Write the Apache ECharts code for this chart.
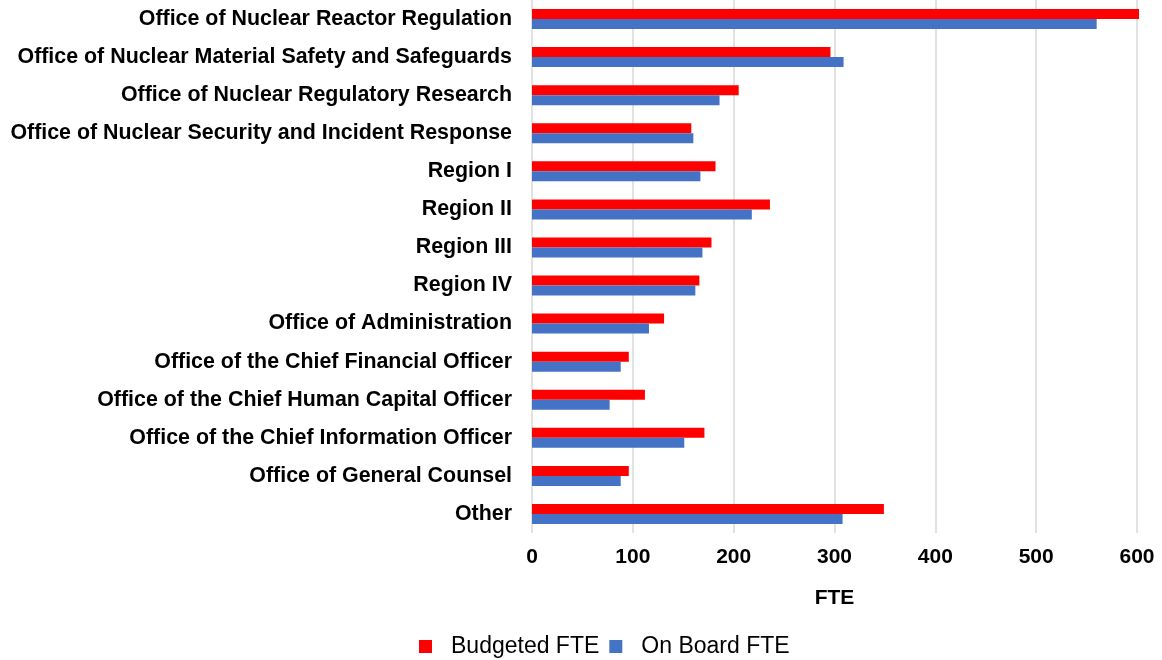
<!DOCTYPE html>
<html>
<head>
<meta charset="utf-8">
<script src="https://cdn.jsdelivr.net/npm/echarts@6/dist/echarts.min.js"></script>
<style>
html,body{margin:0;padding:0;background:#fff;}
#c{width:1162px;height:660px;}
</style>
</head>
<body>
<div id="c"></div>
<script>
const categories = [
  "Office of Nuclear Reactor Regulation",
  "Office of Nuclear Material Safety and Safeguards",
  "Office of Nuclear Regulatory Research",
  "Office of Nuclear Security and Incident Response",
  "Region I",
  "Region II",
  "Region III",
  "Region IV",
  "Office of Administration",
  "Office of the Chief Financial Officer",
  "Office of the Chief Human Capital Officer",
  "Office of the Chief Information Officer",
  "Office of General Counsel",
  "Other"
];
const budgetedFTE = [602, 296, 205, 158, 182, 236, 178, 166, 131, 96, 112, 171, 96, 349];
const onBoardFTE = [560, 309, 186, 160, 167, 218, 169, 162, 116, 88, 77, 151, 88, 308];
const xTicks = [0, 100, 200, 300, 400, 500, 600];

const chart = echarts.init(document.getElementById('c'), null, {renderer: 'canvas'});
const font = 'Arial, "Liberation Sans", sans-serif';
chart.setOption({
  animation: false,
  backgroundColor: '#fff',
  grid: {left: 532, right: 25, top: 0, bottom: 127, containLabel: false},
  legend: {
    data: ['Budgeted FTE', 'On Board FTE'],
    left: 419, top: 635, padding: 0,
    icon: 'rect', itemWidth: 13, itemHeight: 13, itemGap: 10,
    textStyle: {fontFamily: font, fontSize: 23, color: '#000', padding: [0, 0, 0, 14]}
  },
  xAxis: {
    type: 'value', min: xTicks[0], max: xTicks[xTicks.length - 1], interval: 100,
    name: 'FTE', nameLocation: 'middle', nameGap: 55,
    nameTextStyle: {fontFamily: font, fontSize: 21, fontWeight: 'bold', color: '#000'},
    axisLine: {show: false}, axisTick: {show: false},
    axisLabel: {fontFamily: font, fontSize: 21, fontWeight: 'bold', color: '#000', margin: 14},
    splitLine: {show: true, lineStyle: {color: '#d9d9d9', width: 1.5}}
  },
  yAxis: {
    type: 'category', data: categories, inverse: true,
    axisLine: {show: false}, axisTick: {show: false},
    axisLabel: {fontFamily: font, fontSize: 21.4, fontWeight: 'bold', color: '#000', margin: 20}
  },
  series: [
    {name: 'Budgeted FTE', type: 'bar', data: budgetedFTE, barWidth: 10, barGap: '0%', clip: false,
     itemStyle: {color: '#ff0000'}},
    {name: 'On Board FTE', type: 'bar', data: onBoardFTE, barWidth: 10, barGap: '0%', clip: false,
     itemStyle: {color: '#4472c4'}}
  ]
});
</script>
</body>
</html>
